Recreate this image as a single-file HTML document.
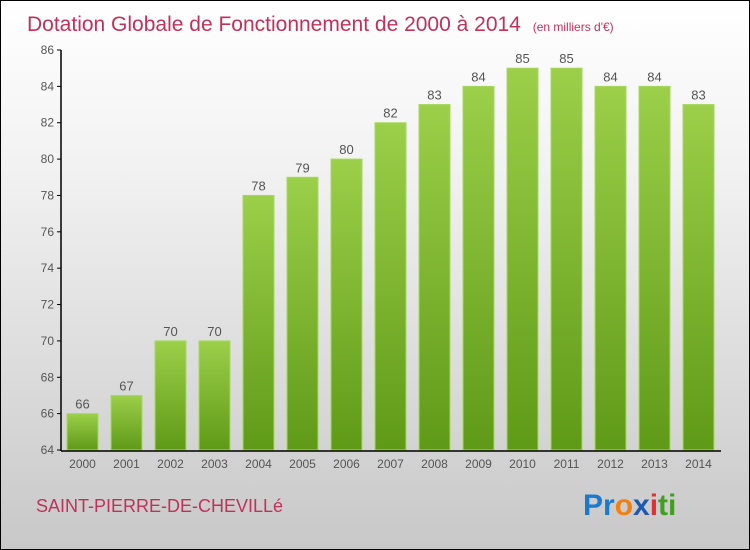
<!DOCTYPE html>
<html><head><meta charset="utf-8"><style>
body{margin:0}
#c{position:relative;width:748px;height:548px;border:1px solid #000;background:linear-gradient(#fff,#f2f2f2 30%,#c8c8c8);font-family:"Liberation Sans",sans-serif;overflow:hidden}
</style></head><body>
<div id="c">
<svg id="s" width="748" height="548">
<defs><linearGradient id="g" x1="0" y1="0" x2="0" y2="1"><stop offset="0" stop-color="#9ccf4a"/><stop offset="1" stop-color="#5f9a17"/></linearGradient></defs>
<text x="26" y="30" font-size="21" fill="#c0325a">Dotation Globale de Fonctionnement de 2000 à 2014 <tspan font-size="12" dx="6">(en milliers d'€)</tspan></text>
<text x="35" y="511" font-size="18" fill="#c0325a">SAINT-PIERRE-DE-CHEVILLé</text>
<text x="582" y="514" font-size="30" font-weight="bold" font-family="Liberation Sans, sans-serif"><tspan fill="#1a7ad0">Pr</tspan><tspan fill="#f08010">o</tspan><tspan fill="#1a5ab0">x</tspan><tspan fill="#e03030">i</tspan><tspan fill="#40a020">ti</tspan></text>
<g id="plot"></g>
</svg></div>
<script>
const years=["2000","2001","2002","2003","2004","2005","2006","2007","2008","2009","2010","2011","2012","2013","2014"];
const values=[66,67,70,70,78,79,80,82,83,84,85,85,84,84,83];
const yTicks=[64,66,68,70,72,74,76,78,80,82,84,86];
const NS="http://www.w3.org/2000/svg",p=document.getElementById('plot');
const y=v=>449-(v-64)*(400/22), x=i=>81.5+i*44;
function mk(t,a){const e=document.createElementNS(NS,t);for(const k in a)e.setAttribute(k,a[k]);p.appendChild(e);return e;}
yTicks.forEach(t=>{const l=mk('line',{x1:56,x2:60,y1:y(t),y2:y(t),stroke:'#000'});

const tx=mk('text',{x:53,y:y(t)+4,'text-anchor':'end','font-size':12,fill:'#555'});tx.textContent=t;
});
values.forEach((v,i)=>{const r=mk('rect',{x:x(i)-15.5,y:y(v),width:31,height:y(64)-y(v),fill:'url(#g)',stroke:'#a8d860','stroke-width':1});

const t=mk('text',{x:x(i),y:y(v)-5,'text-anchor':'middle','font-size':13,fill:'#555'});t.textContent=v;

const yl=mk('text',{x:x(i),y:467,'text-anchor':'middle','font-size':12,fill:'#555'});yl.textContent=years[i];
});
const ya=mk('line',{x1:60,x2:60,y1:49,y2:450,stroke:'#000','stroke-width':1.5});

const xa=mk('line',{x1:60,x2:720,y1:450,y2:450,stroke:'#000','stroke-width':1.5});

</script></body></html>
